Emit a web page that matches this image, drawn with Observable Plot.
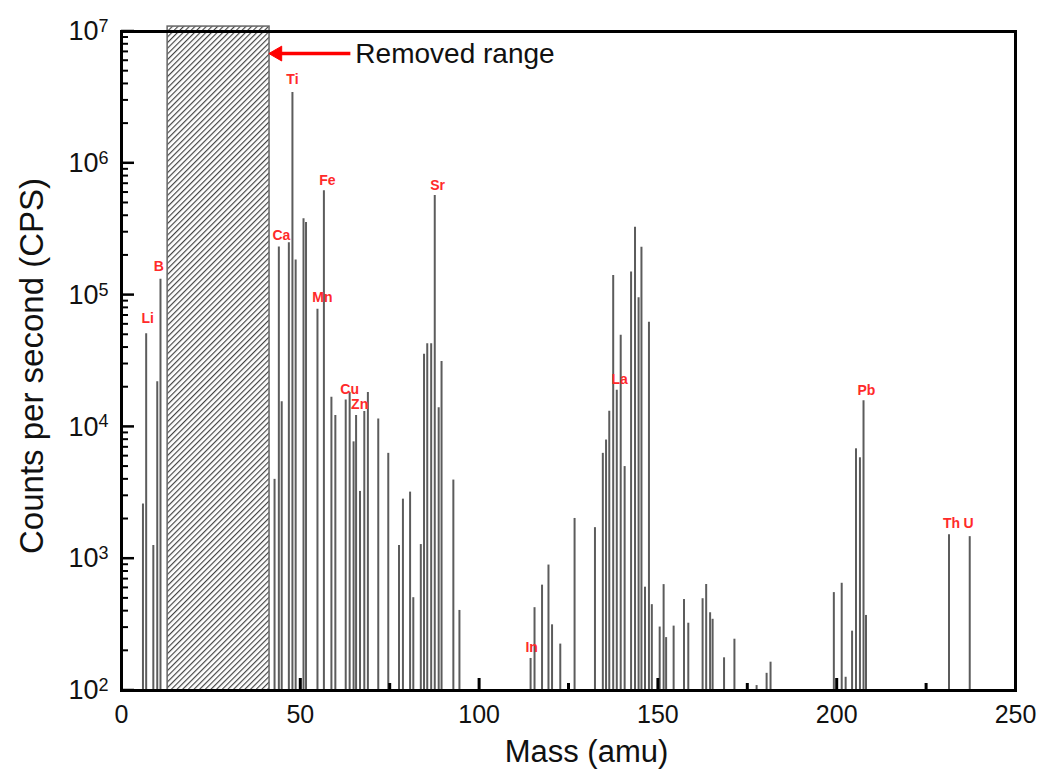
<!DOCTYPE html>
<html>
<head>
<meta charset="utf-8">
<script src="https://cdn.jsdelivr.net/npm/d3@7"></script>
<script src="https://cdn.jsdelivr.net/npm/@observablehq/plot@0.6"></script>
<style>
  html, body { margin: 0; padding: 0; background: #fff; }
  #chart svg { display: block; }
</style>
</head>
<body>
<div id="chart"></div>
<script>
// ---- data ----
const spikeMass = [6.0, 6.9, 8.9, 10.0, 10.9,
  42.8, 44.0, 44.8, 46.8, 47.8, 48.7, 50.9, 51.6, 54.8, 56.6,
  58.7, 59.8, 62.7, 63.8, 64.9, 65.6, 66.7, 67.9, 68.9, 71.8,
  74.6, 77.6, 78.7, 80.7, 81.6, 83.7, 84.6, 85.5, 86.6, 87.6,
  88.7, 89.5, 92.8, 94.5,
  114.4, 115.5, 117.6, 119.4, 120.4, 122.7, 126.7,
  132.4, 134.6, 135.5, 136.4, 137.5, 138.5, 139.6, 140.7, 142.5, 143.6,
  144.6, 145.4, 146.4, 147.5, 148.3, 150.5, 151.6, 152.3, 154.4, 157.3,
  158.5, 162.5, 163.5, 164.6, 165.3, 168.5, 171.4, 177.6, 180.4, 181.5,
  199.2, 201.4, 202.5, 204.3, 205.4, 206.5, 207.5, 208.2,
  231.4, 237.2];
const spikeCps = [2600, 51000, 1260, 22000, 132000,
  4000, 232000, 15500, 250000, 3450000, 185000, 380000, 355000, 78000, 620000,
  16800, 12200, 16000, 18200, 7700, 12200, 3240, 13100, 18200, 11500,
  6300, 1260, 2830, 3200, 506, 1280, 35600, 42800, 42800, 570000,
  14000, 31300, 3950, 405,
  175, 425, 630, 895, 315, 225, 2020,
  1720, 6300, 7950, 13150, 141000, 19000, 49500, 5000, 150000, 327000,
  95300, 231000, 608, 62200, 448, 303, 636, 252, 308, 490,
  324, 497, 637, 389, 347, 177, 245, 109, 135, 164,
  553, 651, 126, 282, 6820, 5830, 15800, 371,
  1520, 1470];

const elementNames = ["Li", "B", "Ca", "Ti", "Fe", "Mn", "Cu", "Zn", "Sr", "In", "La", "Pb", "Th", "U"];
const elementMass  = [7.3, 10.4, 44.7, 47.8, 57.6, 56.2, 63.8, 66.6, 88.4, 114.7, 139.3, 208.3, 232.1, 236.9];
const elementCps   = [66400, 165000, 283000, 4330000, 741000, 95900, 19200, 14800, 679000, 212, 22900, 18900, 1850, 1850];

const removedRange = [12.9, 41.4];          // mass range hidden by the hatched box
const removedTop = 1.09e7;
const annotationText = "Removed range";
const arrowFromMass = 64.0, arrowHeadMass = 43.6, arrowCps = 6.8e6, annotationMass = 65.4;

const xDomain = [0, 250];
const xTicksMajor = [0, 50, 100, 150, 200, 250];
const xTicksInner = [50, 100, 150, 200];
const xTicksMinor = [25, 75, 125, 175, 225];
const yTicksMajor = [1e2, 1e3, 1e4, 1e5, 1e6, 1e7];
const yTicksMinor = [];
for (let e = 2; e < 7; e++) for (let m = 2; m <= 9; m++) yTicksMinor.push(m * 10 ** e);

const xTitle = "Mass (amu)";
const yTitle = "Counts per second (CPS)";

// ---- build ----
const spikes = spikeMass.map((m, i) => ({mass: m, cps: spikeCps[i]}));
const labels = elementNames.map((n, i) => ({name: n, mass: elementMass[i], cps: elementCps[i]}));
const baseCps = yTicksMajor[0];

const font = "'Liberation Sans', Arial, sans-serif";

const svg = Plot.plot({
  width: 1041,
  height: 778,
  marginLeft: 121,
  marginRight: 26,
  marginTop: 31,
  marginBottom: 88,
  style: {fontFamily: font, background: "white", overflow: "visible"},
  x: {domain: xDomain},
  y: {type: "log", domain: [1e2, 1e7]},
  marks: [
    // spikes
    Plot.ruleX(spikes, {x: "mass", y1: baseCps, y2: "cps", stroke: "#5c5c5c", strokeWidth: 2}),
    // tick labels
    Plot.axisX({anchor: "bottom", ticks: xTicksMajor, tickSize: 0, tickPadding: 15, fontSize: 25, fill: "#111", label: null, tickFormat: d => String(d)}),
    Plot.axisY({anchor: "left", ticks: yTicksMajor, tickSize: 0, tickPadding: 13, fontSize: 27, fill: "#111", label: null,
      tickFormat: d => "10^" + Math.round(Math.log10(d))}),
    // hatched removed range
    Plot.rect([removedRange], {x1: d => d[0], x2: d => d[1], y1: baseCps, y2: removedTop,
      fill: "url(#hatch)", stroke: "#666", strokeWidth: 1.5}),
    // frame
    Plot.frame({stroke: "#000", strokeWidth: 3}),
    // element labels
    Plot.text(labels, {x: "mass", y: "cps", text: "name", fill: "#ff2a2a", fontWeight: "bold", fontSize: 14,
      textAnchor: "middle", lineAnchor: "middle"}),
    // annotation arrow: shaft + filled head
    Plot.link([0], {x1: arrowFromMass, x2: arrowHeadMass, y1: arrowCps, y2: arrowCps,
      stroke: "#f00", strokeWidth: 3.5}),
    Plot.dot([0], {x: arrowHeadMass, y: arrowCps, symbol: "triangle", r: 5.5, rotate: -90,
      fill: "#f00", stroke: "#f00", strokeWidth: 1}),
    Plot.text([annotationText], {x: annotationMass, y: arrowCps, text: d => d, textAnchor: "start",
      lineAnchor: "middle", fontSize: 28, fill: "#111"}),
    // axis titles
    Plot.text([xTitle], {frameAnchor: "bottom", dy: 62, dx: 18, text: d => d, fontSize: 31, textAnchor: "middle", lineAnchor: "middle", fill: "#111"}),
    Plot.text([yTitle], {frameAnchor: "left", dx: -89, dy: 5, rotate: -90, text: d => d, fontSize: 33, textAnchor: "middle", lineAnchor: "middle", fill: "#111"}),
    // inward ticks, bottom
    Plot.axisX({anchor: "bottom", ticks: xTicksInner, tickSize: 12, dy: -12, tickFormat: () => "", strokeWidth: 3, stroke: "#000", label: null}),
    Plot.axisX({anchor: "bottom", ticks: xTicksMinor.filter(d => d < removedRange[0] || d > removedRange[1]), tickSize: 7, dy: -7, tickFormat: () => "", strokeWidth: 3, stroke: "#000", label: null})
  ]
});

// hatch pattern
const defs = d3.select(svg).insert("defs", ":first-child");
const pat = defs.append("pattern").attr("id", "hatch").attr("patternUnits", "userSpaceOnUse")
  .attr("width", 4).attr("height", 4).attr("patternTransform", "rotate(45)");
pat.append("rect").attr("width", 4).attr("height", 4).attr("fill", "white");
pat.append("line").attr("x1", 0.6).attr("y1", 0).attr("x2", 0.6).attr("y2", 4)
  .attr("stroke", "#3a3a3a").attr("stroke-width", 1.1);

// superscript exponents on y tick labels
d3.select(svg).selectAll("text").each(function() {
  const t = this.textContent;
  const m = /^10\^(\d)$/.exec(t);
  if (m) {
    const sel = d3.select(this);
    sel.text(null);
    sel.append("tspan").text("10");
    sel.append("tspan").attr("dy", "-0.45em").attr("font-size", "18px").text(m[1]);
  }
});

// inward left-axis ticks, positioned through Plot's own y and x scales
const yScale = svg.scale("y"), xScale = svg.scale("x");
const x0 = xScale.apply(xDomain[0]);
const tickG = d3.select(svg).append("g").attr("aria-label", "y-axis inner ticks").attr("stroke", "#000");
tickG.selectAll("line.maj").data(yTicksMajor).join("line").attr("class", "maj")
  .attr("x1", x0).attr("x2", x0 + 13).attr("y1", d => yScale.apply(d)).attr("y2", d => yScale.apply(d))
  .attr("stroke-width", 2.5);
tickG.selectAll("line.min").data(yTicksMinor).join("line").attr("class", "min")
  .attr("x1", x0).attr("x2", x0 + 7).attr("y1", d => yScale.apply(d)).attr("y2", d => yScale.apply(d))
  .attr("stroke-width", 2);

document.getElementById("chart").appendChild(svg);
</script>
</body>
</html>
